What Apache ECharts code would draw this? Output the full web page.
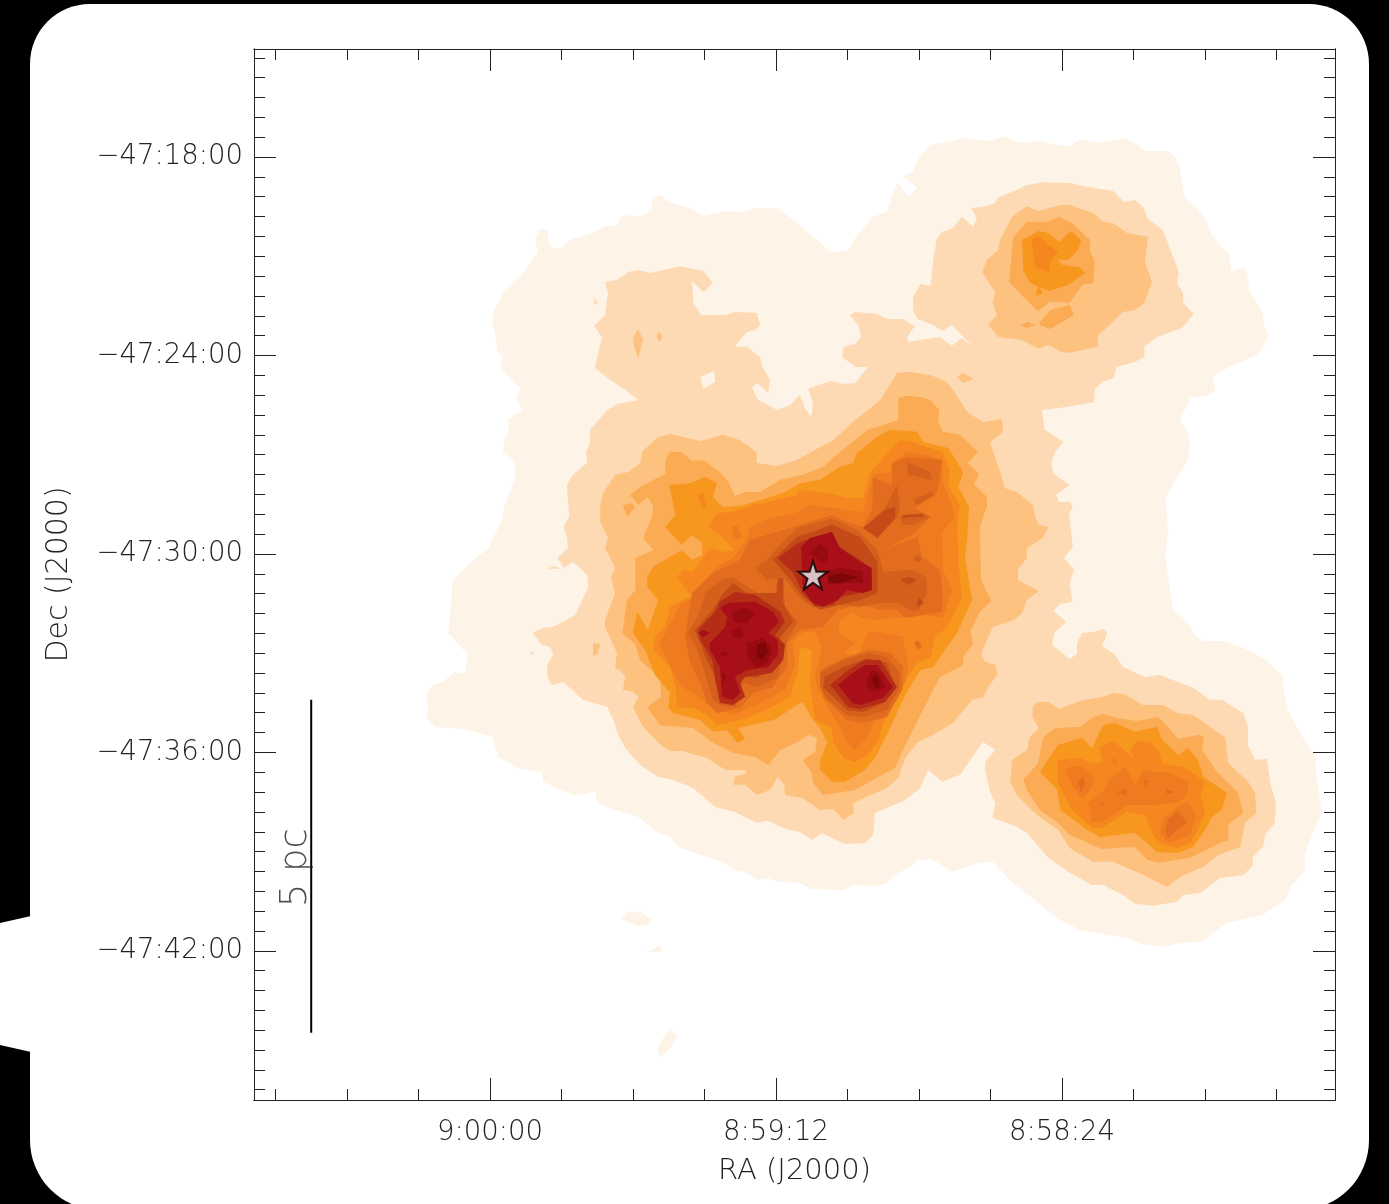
<!DOCTYPE html>
<html><head><meta charset="utf-8">
<style>html,body{margin:0;padding:0;background:#000}#c{width:1389px;height:1204px}</style>
<script src="https://cdn.jsdelivr.net/npm/echarts@6/dist/echarts.min.js"></script></head>
<body><div id="c"></div>
<script>
// RA is in tenths of a second of time after 8:58:00; Dec in hundredths of an arcminute south of -47:18:00.
const raMajor=[240,720,1200];
const raMinor=[-120,0,120,360,480,600,840,960,1080,1320,1440,1560];
const decMajor=[0,600,1200,1800,2400];
const decMinor=[-300,-240,-180,-120,-60,60,120,180,240,300,360,420,480,540,660,720,780,840,900,960,1020,1080,1140,1260,1320,1380,1440,1500,1560,1620,1680,1740,1860,1920,1980,2040,2100,2160,2220,2280,2340,2460,2520,2580,2640,2700,2760,2820];
const levelColors=['#fdf3e6','#fddab3','#fdc27f','#fbab53','#f8971d','#f58620','#ee7b20','#e26d1f','#d4601c','#c44a18','#b52c17','#a80f18','#960a10','#7f0608'];
const starPosition=[658,1264];
const scaleBar=[[1500,1641],[1500,2648]];
const scaleLabelPosition=[1525,2149];

const level1=[
[461,-36,433,-45,408,-57,361,-48,336,-63,316,-45,299,-42,282,-51,248,-36,227,-33,210,-54,176,-42,138,-57,118,-42,101,-18,64,-18,50,0,42,39,34,124,0,184,-8,227,-28,275,-39,287,-45,348,-64,333,-70,351,-75,408,-96,469,-99,508,-107,541,-97,574,-87,598,-37,638,-13,665,-17,701,-8,719,25,729,42,795,29,831,25,871,29,916,50,976,67,1037,62,1128,67,1203,59,1309,55,1369,25,1415,20,1439,5,1463,-30,1463,-64,1484,-97,1515,-131,1569,-131,1605,-139,1672,-159,1741,-185,1814,-185,1853,-196,1980,-181,2044,-168,2104,-168,2155,-143,2207,-134,2246,-97,2291,-37,2316,8,2373,42,2376,64,2388,104,2382,131,2361,210,2337,243,2307,282,2252,322,2195,356,2131,378,2134,425,2161,445,2137,461,2125,482,2125,495,2149,515,2164,534,2195,554,2204,587,2201,607,2216,660,2213,680,2195,713,2192,735,2180,752,2186,772,2161,789,2158,809,2131,836,2116,881,2089,898,2056,918,2044,951,1995,978,1980,1012,1959,1020,1950,1024,1917,1044,1926,1061,1929,1079,1914,1111,1889,1113,1859,1149,1850,1186,1814,1196,1753,1208,1747,1245,1729,1292,1723,1307,1693,1304,1663,1307,1632,1297,1596,1279,1587,1259,1557,1242,1563,1237,1505,1270,1439,1262,1279,1225,1212,1203,1185,1180,1097,1175,1052,1158,976,1158,925,1178,892,1175,846,1168,825,1170,795,1146,765,1156,729,1149,701,1183,635,1178,605,1188,589,1190,544,1196,502,1195,472,1175,402,1149,363,1119,287,1124,251,1116,218,1104,221,1102,251,1096,275,1079,272,1066,251,1027,230,1007,209,987,209,982,184,968,175,948,181,928,160,928,124,915,115,898,139,864,154,842,178,805,163,780,166,752,154,717,154,646,257,629,287,599,284,587,245,557,181,534,166,517,76,498,121,483,94,507,60,490,45,478,-6],
[980,2304,968,2282,948,2282,928,2307,935,2322,951,2325],
[936,2403,915,2385,910,2403,926,2403],
[920,2694,898,2633,886,2660,898,2697,915,2721]
];
const level2=[
[1007,378,987,372,968,348,951,342,931,351,881,330,842,345,826,381,842,408,861,375,859,441,846,478,805,478,789,469,752,472,747,508,755,523,769,529,780,553,789,574,769,574,747,605,742,638,730,674,733,713,752,683,760,698,750,735,718,765,696,750,680,719,671,762,661,786,658,744,666,701,629,677,607,686,587,683,566,635,587,635,609,605,607,574,587,565,577,541,582,508,596,478,587,469,550,475,534,490,507,490,487,511,500,544,498,559,445,544,425,571,408,547,389,574,425,508,441,526,456,508,483,490,490,463,490,423,478,384,461,390,456,311,450,245,441,227,423,215,408,181,389,212,383,184,393,154,373,151,352,139,349,124,316,100,299,85,272,76,227,79,198,91,154,103,136,136,118,130,104,151,96,187,71,221,47,333,44,351,47,381,37,411,37,441,19,475,39,517,81,544,102,574,102,605,118,620,149,635,153,668,173,680,185,704,186,741,232,756,274,765,269,825,238,862,252,892,258,925,255,958,227,992,250,1022,245,1043,227,1043,222,1058,228,1076,222,1179,237,1212,220,1248,227,1288,223,1345,243,1351,255,1372,233,1406,252,1436,257,1475,227,1518,215,1502,215,1469,206,1439,188,1436,171,1427,164,1439,173,1478,151,1505,138,1542,101,1572,76,1566,20,1605,-8,1641,-28,1641,-64,1681,-72,1723,-72,1778,-84,1823,-104,1820,-109,1892,-119,1953,-117,2013,-101,2050,-97,2086,-80,2116,-80,2143,-64,2171,-25,2180,8,2225,37,2231,47,2252,87,2264,118,2258,138,2231,171,2201,190,2201,227,2164,263,2119,299,2044,316,2025,357,1998,352,1953,361,1920,369,1853,369,1829,352,1793,373,1768,411,1868,441,1889,465,1853,478,1908,503,1944,554,1983,557,2050,571,2074,604,2077,643,2044,660,2065,680,2041,700,2034,735,2007,752,2013,789,1980,822,1965,859,1908,894,1883,918,1874,948,1838,973,1787,985,1747,993,1702,1003,1663,1044,1641,1077,1587,1096,1596,1104,1572,1104,1536,1094,1505,1099,1481,1113,1475,1128,1439,1111,1424,1094,1421,1057,1385,1035,1300,1037,1264,1061,1224,1076,1242,1087,1212,1069,1182,1071,1149,1077,1119,1067,1088,1071,992,1061,961,1037,925,1039,892,1032,865,1032,825,1003,765,987,747,951,735,973,704,998,674,1024,638,1012,544,1025,511,1007,478,1002,411],
[1025,423,1019,444,1025,447],
[1102,1245,1094,1236,1079,1245],
[1134,1502,1129,1496,1126,1505]
];
const level1Gaps=[[847,665,824,647,822,680,842,701]];
const level3=[
[898,837,847,859,809,840,780,856,753,892,752,925,718,934,685,916,646,877,624,856,591,801,545,735,517,653,495,650,461,659,433,680,420,713,399,771,373,801,341,792,339,831,361,862,344,952,336,1001,316,1013,289,1052,285,1088,279,1112,263,1119,272,1152,299,1182,299,1212,314,1248,314,1279,279,1312,299,1339,307,1379,321,1400,356,1421,364,1451,376,1505,369,1527,351,1536,349,1566,364,1602,373,1635,391,1641,423,1711,456,1747,483,1771,503,1817,515,1877,534,1908,591,1953,589,1983,607,2004,624,1971,646,1974,676,1938,705,1929,706,1898,717,1874,730,1914,752,1929,772,1898,792,1898,789,1874,772,1865,769,1853,805,1853,836,1817,878,1796,898,1796,918,1771,945,1717,960,1663,951,1632,960,1617,977,1611,973,1572,990,1545,987,1499,1007,1421,1007,1400,990,1318,997,1273,990,1242,1007,1182,1002,1152,1015,1103,1015,1052,1010,1016,990,961,968,952,948,925,945,892,920,849],
[374,348,366,311,347,281,344,251,324,181,299,148,280,163,243,145,227,145,188,169,171,196,154,200,131,230,96,242,101,317,89,378,102,441,118,463,138,469,180,541,180,574,196,580,227,592,243,589,263,568,280,580,307,553,347,544,364,508,349,478,357,441,352,411],
[289,1660,280,1648,263,1648,245,1669,210,1645,171,1632,154,1620,134,1626,104,1657,71,1657,47,1681,20,1687,-34,1756,-39,1832,-72,1889,-84,1923,-86,1983,-67,2013,-59,2086,-22,2110,3,2146,42,2177,64,2207,104,2171,154,2131,188,2131,227,2089,247,2034,282,1989,316,1929,327,1889,324,1823,299,1793,294,1753,279,1726,290,1693],
[1027,1469,1015,1472,1020,1505,1027,1508],
[960,544,951,520,943,553,951,608,958,574],
[921,541,916,529,910,544,916,559],
[416,665,406,653,388,671,406,683]
];
const level2Gaps=[[995,1572,985,1545,972,1572,990,1575]];
const level4=[
[898,892,878,892,861,919,842,916,814,952,800,982,789,1025,772,1013,747,1013,713,976,675,961,641,937,613,892,566,825,534,807,515,795,515,759,515,729,498,722,475,726,461,735,446,765,448,801,440,831,411,840,381,892,399,925,379,958,388,989,366,1028,366,1055,378,1119,376,1279,359,1342,378,1375,394,1436,389,1469,406,1512,406,1536,445,1572,482,1702,507,1793,520,1847,542,1868,587,1914,641,1929,658,1892,660,1862,675,1823,654,1799,651,1756,666,1747,683,1768,713,1793,733,1838,755,1814,792,1802,826,1771,859,1726,915,1717,936,1663,913,1632,915,1575,948,1521,956,1475,978,1439,970,1339,956,1309,956,1212,926,1188,943,1152,928,1088,926,1058,935,1028,951,1052,965,1022,948,998,906,958,906,916],
[977,1052,962,1046,956,1058,970,1088],
[305,1883,280,1832,272,1756,252,1726,210,1723,190,1696,171,1684,148,1696,114,1705,79,1693,62,1723,45,1759,8,1747,2,1756,5,1793,-20,1859,-55,1920,-64,1983,-39,2019,-39,2065,-25,2074,25,2119,81,2134,97,2125,118,2086,154,2089,173,2092,227,2050,247,2013,277,1974,299,1914],
[329,378,322,242,299,196,265,196,245,181,223,200,193,251,193,287,185,317,188,381,206,387,227,441,260,438,280,466,305,423],
[277,499,260,463,227,447,220,478,260,520,277,508],
[310,508,297,499,285,508,299,517]
];
const level5=[
[899,992,864,986,839,967,819,986,826,1028,809,1058,780,1055,735,1031,705,1013,680,986,646,976,613,937,591,925,584,895,550,846,529,825,483,831,473,862,431,880,416,922,406,955,414,998,396,1058,399,1149,403,1209,391,1339,416,1439,433,1481,456,1542,478,1551,495,1602,507,1641,534,1747,554,1817,571,1853,604,1889,626,1889,646,1853,646,1823,634,1771,646,1726,658,1702,675,1648,691,1663,717,1696,725,1702,784,1726,772,1759,785,1771,802,1732,826,1738,847,1702,893,1681,901,1663,898,1620,923,1566,940,1490,960,1439,953,1375,935,1430,918,1339,936,1300,936,1270,926,1239,878,1188,861,1218,844,1203,844,1167,861,1143,878,1173,906,1119,889,1082],
[277,1859,247,1778,206,1756,190,1787,171,1717,151,1711,118,1738,81,1723,72,1762,45,1808,29,1787,12,1823,3,1874,-37,1923,-28,1974,-12,1995,0,2034,20,2086,45,2104,81,2101,97,2074,118,2044,176,2056,198,2034,243,1974,248,1914],
[307,251,280,224,263,230,245,257,225,224,208,251,213,281,230,311,247,311,240,326,210,333,201,351,230,387,262,405,294,381,305,342],
[284,411,280,387,272,411,282,420]
];
const level6=[
[834,1119,819,1076,794,1073,758,1052,735,1043,685,1022,680,1007,634,1016,601,1031,574,1031,562,955,524,877,512,856,490,862,441,892,428,946,431,998,411,1052,416,1119,414,1227,408,1333,433,1421,453,1451,461,1515,483,1530,498,1572,517,1632,540,1711,549,1768,567,1808,587,1829,607,1817,624,1768,626,1726,654,1702,663,1590,660,1490,680,1484,683,1551,696,1632,727,1663,764,1693,780,1702,819,1717,836,1687,859,1666,886,1663,889,1602,898,1542,926,1490,923,1451,906,1421,898,1360,869,1333,861,1330,886,1270,876,1248,859,1254,831,1182,805,1194,789,1188,814,1143],
[292,251,277,239,263,266,247,287,260,317,262,348,285,333,289,287],
[247,1823,210,1817,190,1832,171,1829,178,1784,154,1765,118,1823,126,1793,114,1765,92,1768,76,1802,72,1832,37,1844,0,1889,8,1929,0,1983,13,2034,25,2074,47,2089,76,2074,89,2044,101,1989,131,1980,173,2028,190,2028,223,1974,247,1892],
[852,1022,842,1016,837,1058,844,1061]
];
const level7=[
[856,1330,881,1354,901,1424,916,1475,901,1527,881,1596,856,1626,827,1666,792,1687,747,1651,705,1611,688,1536,693,1469,675,1436,654,1436,643,1490,654,1566,651,1602,624,1693,609,1732,601,1771,587,1793,566,1753,557,1711,540,1681,517,1641,507,1602,498,1542,503,1490,507,1451,545,1436,566,1436,582,1512,607,1496,587,1469,613,1439,616,1409,592,1375,576,1394,554,1400,470,1385,440,1394,425,1309,440,1248,441,1134,420,1088,425,1052,441,982,441,916,467,901,500,892,525,925,529,955,557,961,574,1073,601,1067,663,1052,688,1076,730,1091,764,1119,769,1158,792,1212,814,1233,839,1279,827,1315],
[794,1119,784,1115,777,1152,789,1155],
[725,1119,713,1106,703,1119,713,1131],
[235,1853,223,1841,206,1844,190,1868,185,1889,196,1920,206,1941,222,1904],
[196,1953,168,1914,164,1889,134,1841,118,1898,104,1853,81,1862,64,1859,27,1889,30,1923,42,1950,81,1959,131,1959,154,1989,176,2010,190,2010],
[76,2044,71,2004,47,1965,29,1950,15,1989,25,2050,47,2065,64,2071],
[156,1823,151,1814,148,1829,153,1835]
];
const level8=[
[861,1318,826,1258,780,1218,764,1158,708,1128,651,1097,626,1082,601,1103,574,1119,559,1067,557,970,525,992,525,925,500,907,441,916,445,967,450,1016,487,1061,461,1088,487,1137,534,1182,482,1149,475,1209,445,1248,441,1309,441,1375,503,1394,517,1369,545,1369,576,1354,616,1369,641,1421,680,1430,701,1469,701,1542,727,1605,758,1620,780,1666,819,1681,836,1651,844,1602,864,1530,873,1451],
[646,1551,601,1512,562,1490,529,1499,507,1542,508,1611,534,1693,574,1711,601,1702,641,1632],
[488,1469,482,1460,475,1481,482,1490],
[67,2034,62,2004,45,1977,30,2013,47,2034,62,2059],
[213,1889,206,1874,201,1892,208,1923],
[148,1923,134,1911,131,1929],
[104,1883,96,1883,99,1908],
[67,1911,50,1920,64,1926],
[175,1953,170,1953,173,1968]
];
const level9=[
[755,1242,733,1212,713,1173,685,1122,626,1094,584,1128,550,1188,540,1254,490,1248,467,1273,467,1324,490,1375,517,1348,545,1348,579,1360,613,1354,658,1363,680,1333,708,1270,735,1279],
[868,1439,852,1391,839,1318,811,1279,792,1270,752,1318,722,1318,717,1273,708,1273,705,1360,683,1406,700,1454,710,1521,718,1575,752,1602,775,1590,789,1663,814,1657,826,1641,836,1581,852,1490],
[646,1560,607,1521,566,1499,534,1512,512,1560,514,1611,534,1672,574,1693,601,1687,633,1641,646,1602],
[500,922,461,952,458,976,498,961],
[490,1037,461,1013,453,1022,483,1052],
[574,1122,537,1061,517,992,512,1058,517,1091,550,1152],
[512,1085,475,1076,461,1088,490,1112,508,1112],
[490,1218,482,1203,475,1215,482,1227],
[492,1339,482,1318,472,1345,482,1375],
[542,1309,532,1306,529,1339,537,1348]
];
const level10=[
[725,1218,685,1149,626,1112,579,1149,550,1224,550,1318,579,1339,613,1354,646,1369,675,1330,696,1279],
[856,1430,826,1369,811,1324,792,1288,769,1318,718,1318,717,1273,708,1273,708,1348,691,1406,713,1451,710,1499,722,1551,755,1575,777,1566,784,1620,792,1648,814,1641,822,1572,836,1521],
[638,1572,607,1542,566,1515,534,1530,520,1602,540,1651,574,1678,601,1672,624,1632,641,1602],
[574,1122,537,1067,520,1058,520,1091,550,1152],
[508,1082,475,1079,473,1088,507,1091],
[512,1279,498,1270,483,1279,498,1294],
[483,1339,478,1333,473,1348,482,1360]
];
const level11=[
[717,1212,680,1164,626,1134,613,1179,574,1224,559,1248,559,1309,579,1318,613,1330,624,1354,654,1360,675,1318,691,1258],
[851,1430,822,1375,814,1345,789,1315,755,1324,713,1375,705,1406,722,1445,705,1475,708,1521,727,1560,772,1572,780,1590,772,1632,792,1657,814,1651,822,1581,827,1521,847,1460],
[629,1596,599,1551,571,1521,545,1521,517,1602,537,1648,579,1669,599,1663]
];
const level12=[
[678,1179,663,1152,626,1134,613,1182,579,1224,560,1242,559,1309,574,1318,601,1309,616,1339,641,1360,658,1348,675,1309],
[814,1363,800,1348,755,1345,725,1375,715,1406,733,1439,717,1460,717,1505,733,1542,769,1551,789,1572,780,1620,792,1641,811,1632,814,1542,831,1490,831,1469,805,1421,802,1391],
[851,1439,842,1430,831,1439,842,1451],
[616,1596,596,1566,571,1536,550,1536,524,1602,540,1635,579,1657,592,1651]
];
const level13=[
[663,1197,646,1167,633,1188,633,1218,641,1227],
[634,1254,613,1242,574,1254,574,1288,607,1288,633,1294],
[794,1375,772,1363,755,1379,769,1409,792,1406],
[794,1430,777,1424,775,1451,792,1454],
[769,1469,742,1454,727,1481,733,1527,752,1545,769,1512],
[814,1499,805,1493,800,1505,809,1512],
[811,1557,802,1572,809,1590],
[567,1581,559,1551,549,1557,537,1602,554,1617,566,1605]
];
const level14=[
[633,1270,613,1258,582,1270,613,1288,629,1288],
[752,1475,738,1469,733,1496,743,1521,752,1512],
[559,1572,550,1566,545,1602,554,1605]
];

const drawOrder=[[level1,0],[level2,1],[level1Gaps,0],[level3,2],[level2Gaps,1],[level4,3],[level5,4],[level6,5],[level7,6],[level8,7],[level9,8],[level10,9],[level11,10],[level12,11],[level13,12],[level14,13]];
const shapes=[];
drawOrder.forEach(([polys,c])=>polys.forEach(p=>shapes.push({p,c})));

const pad=n=>String(n).padStart(2,'0');
function raLabel(v){const t=8*3600+58*60+Math.round(v/10);return Math.floor(t/3600)+':'+pad(Math.floor(t%3600/60))+':'+pad(t%60);}
function decLabel(v){const t=47*60+18+Math.round(v/100);return '\u2212'+Math.floor(t/60)+':'+pad(t%60)+':00';}

const FONT='"DejaVu Sans ExtraLight","DejaVu Sans"';
const LABEL={fontFamily:FONT,fontWeight:200,color:'#222'};
const LINE={show:true,onZero:false,lineStyle:{color:'#222',width:1}};
const RA_RANGE={min:-218,max:1596,inverse:true,type:'value',splitLine:{show:false}};
const DEC_RANGE={min:-326.5,max:2851,inverse:true,type:'value',splitLine:{show:false}};
function tickStyle(values,len){return {show:true,inside:true,length:len,customValues:values,lineStyle:{color:'#222',width:1}};}
const xAxes=[
 Object.assign({},RA_RANGE,{position:'bottom',axisLine:LINE,axisTick:tickStyle(raMajor,22),name:'RA (J2000)',nameLocation:'middle',nameGap:57,nameTextStyle:Object.assign({fontSize:29},LABEL),
  axisLabel:Object.assign({show:true,customValues:raMajor,formatter:raLabel,fontSize:27.5,margin:19},LABEL)}),
 Object.assign({},RA_RANGE,{position:'bottom',axisLine:LINE,axisTick:tickStyle(raMinor,11),axisLabel:{show:false}}),
 Object.assign({},RA_RANGE,{position:'top',axisLine:LINE,axisTick:tickStyle(raMajor,22),axisLabel:{show:false}}),
 Object.assign({},RA_RANGE,{position:'top',axisLine:LINE,axisTick:tickStyle(raMinor,11),axisLabel:{show:false}})
];
const yAxes=[
 Object.assign({},DEC_RANGE,{position:'left',axisLine:LINE,axisTick:tickStyle(decMajor,22),name:'Dec (J2000)',nameLocation:'middle',nameGap:180,nameRotate:90,nameTextStyle:Object.assign({fontSize:30},LABEL),
  axisLabel:Object.assign({show:true,customValues:decMajor,formatter:decLabel,fontSize:27.5,margin:11},LABEL)}),
 Object.assign({},DEC_RANGE,{position:'left',axisLine:LINE,axisTick:tickStyle(decMinor,11),axisLabel:{show:false}}),
 Object.assign({},DEC_RANGE,{position:'right',axisLine:LINE,axisTick:tickStyle(decMajor,22),axisLabel:{show:false}}),
 Object.assign({},DEC_RANGE,{position:'right',axisLine:LINE,axisTick:tickStyle(decMinor,11),axisLabel:{show:false}})
];

const chart=echarts.init(document.getElementById('c'),null,{renderer:'canvas',width:1389,height:1204});
chart.setOption({
 animation:false,backgroundColor:'#000',
 graphic:[
  {type:'rect',z:-10,silent:true,shape:{x:30,y:4,width:1339,height:1206,r:[60,60,70,70]},style:{fill:'#fff'}},
  {type:'polygon',z:-10,silent:true,shape:{points:[[0,923],[31,916],[31,1052],[0,1045]]},style:{fill:'#fff'}}
 ],
 grid:{left:254,top:49,width:1081,height:1051,containLabel:false},
 xAxis:xAxes,yAxis:yAxes,
 series:[
  {type:'custom',coordinateSystem:'cartesian2d',silent:true,z:1,clip:false,
   data:shapes.map((s,i)=>[0,0,i]),
   renderItem(params,api){
    const s=shapes[params.dataIndex],pts=[];
    for(let i=0;i<s.p.length;i+=2)pts.push(api.coord([s.p[i],s.p[i+1]]));
    return {type:'polygon',shape:{points:pts},style:{fill:levelColors[s.c]}};
   }},
  {type:'line',data:scaleBar,symbol:'none',z:3,silent:true,lineStyle:{color:'#000',width:2}},
  {type:'scatter',data:[scaleLabelPosition],symbolSize:0,z:4,silent:true,
   label:{show:true,position:'inside',formatter:'5 pc',rotate:90,fontSize:37,fontFamily:FONT,fontWeight:200,color:'#222',align:'center',verticalAlign:'middle'}},
  {type:'scatter',data:[starPosition],z:5,silent:true,symbol:'path://M50 0 L61 35 L98 35 L68 57 L79 91 L50 70 L21 91 L32 57 L2 35 L39 35 Z',symbolSize:[29,28],
   itemStyle:{color:'#e9edf0',borderColor:'#000',borderWidth:2}}
 ]
});
</script></body></html>
